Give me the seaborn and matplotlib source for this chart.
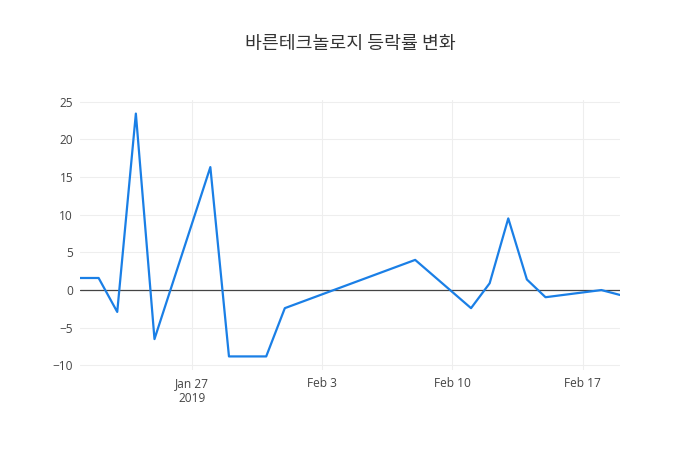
import pandas as pd
import numpy as np
import seaborn as sns
import matplotlib.pyplot as plt
import matplotlib.dates as mdates

## data
dates = ["2019-01-21", "2019-01-22", "2019-01-23", "2019-01-24", "2019-01-25",
         "2019-01-28", "2019-01-29", "2019-01-30", "2019-01-31", "2019-02-01",
         "2019-02-08", "2019-02-11", "2019-02-12", "2019-02-13", "2019-02-14",
         "2019-02-15", "2019-02-18", "2019-02-19"]
rates = [1.6, 1.6, -2.9, 23.4, -6.5,
         16.3, -8.8, -8.8, -8.8, -2.4,
         4.0, -2.4, 0.9, 9.5, 1.4,
         -0.95, 0.0, -0.65]
tick_dates = ["2019-01-27", "2019-02-03", "2019-02-10", "2019-02-17"]
tick_labels = ["Jan 27\n2019", "Feb 3", "Feb 10", "Feb 17"]
y_ticks = [-10, -5, 0, 5, 10, 15, 20, 25]
title = "바른테크놀로지 등락률 변화"

df = pd.DataFrame({"date": pd.to_datetime(dates), "rate": rates})

sns.set_style("white")
plt.rcParams['font.family'] = ['Open Sans', 'Noto Sans CJK KR', 'DejaVu Sans']

fig = plt.figure(figsize=(7, 4.5), dpi=100)
ax = fig.add_axes([80/700, 80/450, 540/700, 270/450])

ax.axhline(0, color="#444444", lw=0.9, zorder=1)
sns.lineplot(data=df, x="date", y="rate", ax=ax, color="#1a7fe6", lw=1.6, zorder=3)

ax.set_xlim(df.date.min(), df.date.max())
ax.set_ylim(-10.6, 25.2)
ax.set_xticks(pd.to_datetime(tick_dates))
ax.set_xticklabels(tick_labels)
ax.set_yticks(y_ticks)
ax.grid(True, color="#eeeeee", lw=0.8, zorder=0)
for s in ax.spines.values():
    s.set_visible(False)
ax.tick_params(length=0, labelsize=8.6, colors="#444444", pad=5)
ax.set_xlabel("")
ax.set_ylabel("")

fig.text(0.5, 1 - 44/450, title, ha="center", va="center", fontsize=13.2,
         color="#333333", family=['Noto Sans CJK KR', 'DejaVu Sans'])

fig.savefig("out.png", dpi=100)
